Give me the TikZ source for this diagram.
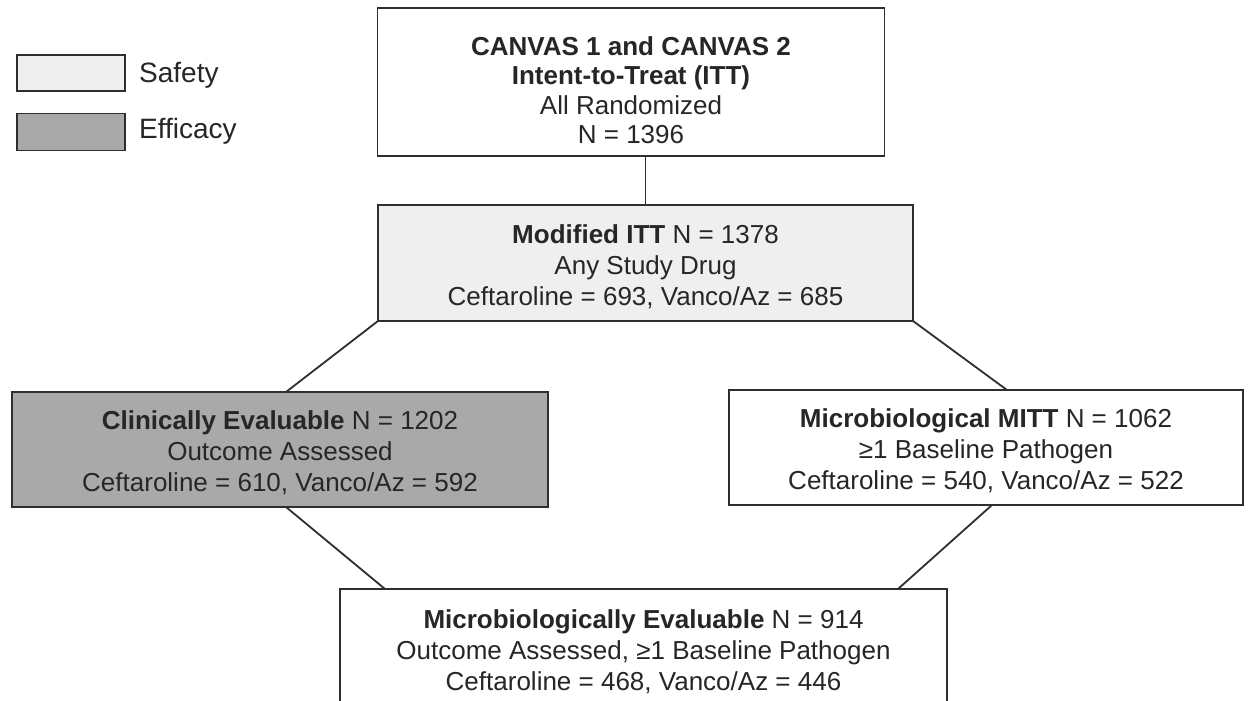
\documentclass[tikz,border=0pt]{standalone}
\usepackage{fontspec}
\setmainfont{Liberation Sans}
\usetikzlibrary{calc}

\definecolor{safetygray}{HTML}{EFEFEF}
\definecolor{efficacygray}{HTML}{A9A9A9}
\definecolor{linegray}{HTML}{2E2E2E}

\tikzset{
  popbox/.style={draw=linegray, line width=1.8pt, inner sep=0pt, outer sep=0pt, fill=white},
  safety/.style={popbox, fill=safetygray},
  efficacy/.style={popbox, fill=efficacygray},
  poptext/.style={inner sep=0pt, align=center, text=black!85, font=\fontsize{26}{31}\selectfont},
  legtext/.style={anchor=west, inner sep=0pt, text=black!85, font=\fontsize{28}{31}\selectfont},
  link/.style={draw=linegray, line width=1.8pt},
}

\begin{document}
\begin{tikzpicture}[x=1pt, y=-1pt]
  \useasboundingbox (0,0) rectangle (1253,701);
  \clip (0,0) rectangle (1253,701);
  \fill[white] (0,0) rectangle (1253,701);

  % legend
  \node[safety, minimum width=108pt, minimum height=36pt] (leg-s) at (71,73) {};
  \node[efficacy, minimum width=108pt, minimum height=37pt] (leg-e) at (71,132) {};
  \node[legtext] (leg-s-txt) at (139,75) {Safety};
  \node[legtext] (leg-e-txt) at (139,131) {Efficacy};

  % populations
  \node[popbox, minimum width=507pt, minimum height=148pt] (itt) at (631,82) {};
  \node[safety, minimum width=535pt, minimum height=116pt] (mitt) at (645.5,263) {};
  \node[efficacy, minimum width=536pt, minimum height=115pt] (ce) at (280,449.5) {};
  \node[popbox, minimum width=514pt, minimum height=115pt] (mmitt) at (986,447.5) {};
  \node[popbox, minimum width=607pt, minimum height=130pt] (me) at (643.5,654) {};

  \node[poptext, font=\fontsize{26}{29.5}\selectfont] (itt-txt) at ($(itt.center)+(0,8)$)
    {\textbf{CANVAS 1 and CANVAS 2}\\ \textbf{Intent-to-Treat (ITT)}\\ All Randomized\\ N = 1396};
  \node[poptext] (mitt-txt) at ($(mitt.center)+(0,4)$)
    {\textbf{Modified ITT} N = 1378\\ Any Study Drug\\ Ceftaroline = 693, Vanco/Az = 685};
  \node[poptext] (ce-txt) at ($(ce.center)+(0,3)$)
    {\textbf{Clinically Evaluable} N = 1202\\ Outcome Assessed\\ Ceftaroline = 610, Vanco/Az = 592};
  \node[poptext] (mmitt-txt) at ($(mmitt.center)+(0,3)$)
    {\textbf{Microbiological MITT} N = 1062\\ ≥1 Baseline Pathogen\\ Ceftaroline = 540, Vanco/Az = 522};
  \node[poptext] (me-txt) at ($(me.center)+(0,-2)$)
    {\textbf{Microbiologically Evaluable} N = 914\\ Outcome Assessed, ≥1 Baseline Pathogen\\ Ceftaroline = 468, Vanco/Az = 446};

  % connectors
  \draw[link] (mitt.north |- itt.south) -- (mitt.north);
  \draw[link] (mitt.south west) -- ($(ce.north west)+(274,0)$);
  \draw[link] (mitt.south east) -- ($(mmitt.north west)+(278,0)$);
  \draw[link] ($(ce.south west)+(274,0)$) -- ($(me.north west)+(45,0)$);
  \draw[link] ($(mmitt.south west)+(263,0)$) -- ($(me.north east)+(-49,0)$);

\end{tikzpicture}
\end{document}
